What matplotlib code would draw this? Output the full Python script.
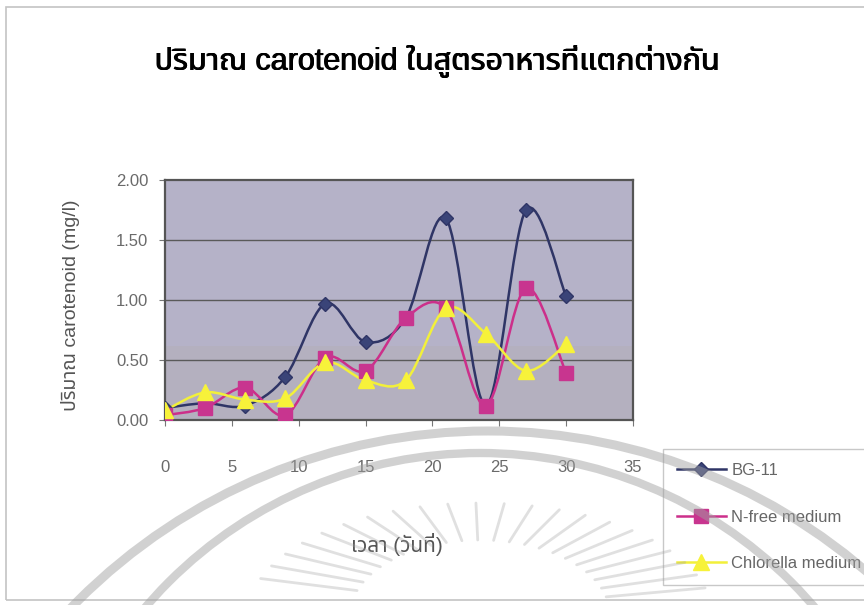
import numpy as np
import matplotlib
matplotlib.use("Agg")
import matplotlib.pyplot as plt
from matplotlib import font_manager, ft2font
from matplotlib import transforms
from matplotlib.path import Path
from matplotlib.patches import PathPatch, Rectangle, Arc
from matplotlib.lines import Line2D

# ---- data -------------------------------------------------------------
days = [0, 3, 6, 9, 12, 15, 18, 21, 24, 27, 30]
bg11 = [0.10, 0.14, 0.12, 0.36, 0.97, 0.65, 0.85, 1.68, 0.12, 1.75, 1.03]
nfree = [0.04, 0.10, 0.27, 0.04, 0.52, 0.41, 0.85, 0.93, 0.12, 1.10, 0.39]
chlorella = [0.08, 0.23, 0.17, 0.18, 0.48, 0.33, 0.33, 0.93, 0.72, 0.41, 0.63]
series_names = ["BG-11", "N-free medium", "Chlorella medium"]
x_ticks = [0, 5, 10, 15, 20, 25, 30, 35]
y_ticks = [0.0, 0.5, 1.0, 1.5, 2.0]

title_text = "ปริมาณ carotenoid ในสูตรอาหารที่แตกต่างกัน"
ylabel_text = "ปริมาณ carotenoid (mg/l)"
xlabel_text = "เวลา (วันที่)"

W, H = 864, 605


def find_thai_family():
    """Return the name of an installed font that has Thai glyphs."""
    found = []
    for f in font_manager.fontManager.ttflist:
        try:
            ft = ft2font.FT2Font(f.fname)
            if 0x0E01 in ft.get_charmap():
                found.append(f.name)
        except Exception:
            pass
    for pref in ["Noto Sans Thai", "Noto Sans Thai Looped", "Loma", "Garuda",
                 "Sarabun", "Tlwg Typist"]:
        if pref in found:
            return pref
    return found[0] if found else None


thai = find_thai_family()
fams = ["Liberation Sans"] + ([thai] if thai else []) + ["DejaVu Sans"]
plt.rcParams["font.family"] = fams


def smooth_path(x, y):
    """Cubic Bezier path through the points (Catmull-Rom style smoothing)."""
    pts = np.column_stack([x, y]).astype(float)
    n = len(pts)
    verts = [pts[0]]
    codes = [Path.MOVETO]
    for i in range(n - 1):
        p0 = pts[i - 1] if i > 0 else pts[i]
        p1 = pts[i]
        p2 = pts[i + 1]
        p3 = pts[i + 2] if i + 2 < n else pts[i + 1]
        c1 = p1 + (p2 - p0) / 6.0
        c2 = p2 - (p3 - p1) / 6.0
        verts += [c1, c2, p2]
        codes += [Path.CURVE4] * 3
    return Path(verts, codes)


def fx(px):
    return px / W


def fy(py):
    return 1 - py / H


fig = plt.figure(figsize=(W / 100, H / 100), dpi=100)
fig.patch.set_facecolor("white")

# outer chart frame
fig.add_artist(Rectangle((fx(6), fy(600)), fx(870), 593 / H,
                         transform=fig.transFigure, fill=False,
                         edgecolor="#c4c4c4", linewidth=1.2))

ax = fig.add_axes([fx(165), fy(420), fx(468), 240 / H])
ax.set_facecolor("#b5b2c8")
ax.axhspan(0, 0.62, color="#b4b0bf", lw=0, zorder=0)

styles = [
    dict(color="#2f3566", marker="D", ms=7, mfc="#3a4478", mec="#2f3566", lw=1.8),
    dict(color="#cc2f8a", marker="s", ms=10, mfc="#c8358f", mec="#c8358f", lw=1.8),
    dict(color="#f2f03a", marker="^", ms=11, mfc="#f7f23a", mec="#f7f23a", lw=1.8),
]

for vals, st in zip([bg11, nfree, chlorella], styles):
    ax.add_patch(PathPatch(smooth_path(days, vals), fill=False,
                           edgecolor=st["color"], linewidth=st["lw"],
                           transform=ax.transData, zorder=3))
for vals, st in zip([bg11, nfree, chlorella], styles):
    ax.plot(days, vals, linestyle="none", marker=st["marker"], ms=st["ms"],
            mfc=st["mfc"], mec=st["mec"], zorder=4)

ax.set_xlim(0, 35)
ax.set_ylim(0, 2.0)
ax.set_xticks(x_ticks)
ax.set_yticks(y_ticks)
ax.set_yticklabels([f"{v:.2f}" for v in y_ticks])
ax.tick_params(axis="x", direction="out", length=4, width=0.8, color="#777777",
               pad=25, labelsize=12, labelcolor="#6a6a6a")
ax.tick_params(axis="y", direction="out", length=4, width=0.8, color="#777777",
               pad=8, labelsize=12, labelcolor="#6a6a6a")
for y in y_ticks[1:-1]:
    ax.axhline(y, color="#5a5a5a", linewidth=1.0, zorder=1)
for side, sp in ax.spines.items():
    sp.set_color("#555555")
    sp.set_linewidth(1.6)

# heavy title: the text is laid down a few times with a sub-pixel shift
for dx in (0.0, 0.5, 1.0):
    tr = transforms.offset_copy(fig.transFigure, fig=fig, x=dx, y=0, units="dots")
    fig.text(fx(437), fy(62), title_text, ha="center", va="center",
             fontsize=22, color="black", transform=tr)
fig.text(fx(70), fy(305), ylabel_text, ha="center", va="center",
         rotation=90, fontsize=14, color="#555555")
fig.text(fx(397), fy(545), xlabel_text, ha="center", va="center",
         fontsize=15, color="#555555")

handles = [Line2D([0], [0], color=st["color"], lw=st["lw"], marker=st["marker"],
                  ms=st["ms"], mfc=st["mfc"], mec=st["mec"]) for st in styles]
leg = fig.legend(handles, series_names, loc="upper left",
                 bbox_to_anchor=(fx(663), fy(449)), frameon=True,
                 fontsize=12, labelcolor="#666666", handlelength=2.9,
                 handletextpad=0.35, labelspacing=1.88, borderpad=0.85,
                 fancybox=False, borderaxespad=0)
leg.get_frame().set_edgecolor("#bbbbbb")
leg.get_frame().set_linewidth(1.0)

# faint seal watermark printed over the lower part of the page
mark = dict(color="#a0a0a0", zorder=20, transform=fig.transFigure)
fig.add_artist(Arc((fx(488), fy(1011)), 2 * 580 / W, 2 * 580 / H,
                   theta1=0, theta2=180, linewidth=6.5, alpha=0.48, **mark))
fig.add_artist(Arc((fx(480), fy(893)), 2 * 440 / W, 2 * 440 / H,
                   theta1=0, theta2=180, linewidth=6, alpha=0.48, **mark))
cx, cy = 480, 615
for ang in np.arange(14, 167, 7.0):
    t = np.deg2rad(ang)
    x0, y0 = cx + 130 * np.cos(t), cy - 75 * np.sin(t)
    x1, y1 = cx + 232 * np.cos(t), cy - 112 * np.sin(t)
    fig.add_artist(Line2D([fx(x0), fx(x1)], [fy(y0), fy(y1)],
                          linewidth=2.0, solid_capstyle="round", alpha=0.32,
                          **mark))

fig.savefig("out.png", dpi=100)
